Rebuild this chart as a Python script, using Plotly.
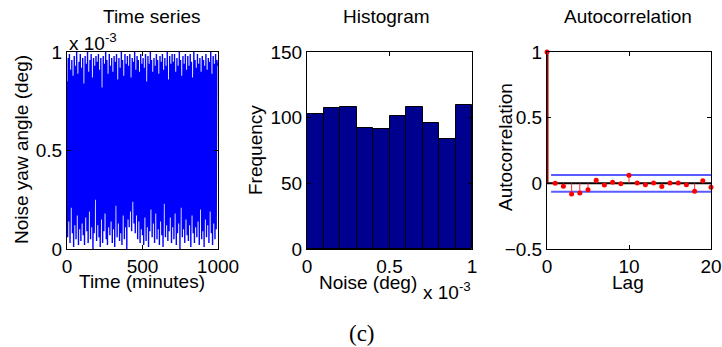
import plotly.graph_objects as go

# ---------------- data ----------------
# Time series (values in units of 1e-3 deg), sampled every 4 minutes
time_step_min = 4
noise_e3 = [
    0.85, 0.06, 0.97, 0.14, 0.99, 0.03, 0.91, 0.21, 0.96, 0.08, 0.88, 0.01, 0.98, 0.12, 0.93, 0.05, 1.00, 0.17, 0.89, 0.02, 0.95, 0.10, 0.99, 0.04, 0.92,
    0.13, 0.97, 0.07, 0.84, 0.02, 0.98, 0.16, 0.94, 0.09, 1.00, 0.03, 0.90, 0.19, 0.96, 0.05, 0.99, 0.11, 0.87, 0.00, 0.97, 0.08, 0.93, 0.25, 0.98, 0.04,
    0.95, 0.12, 0.99, 0.06, 0.91, 0.01, 0.97, 0.15, 0.82, 0.03, 0.98, 0.09, 0.94, 0.18, 1.00, 0.05, 0.96, 0.02, 0.89, 0.11, 0.99, 0.07, 0.93, 0.14, 0.97,
    0.03, 0.90, 0.10, 0.98, 0.01, 0.95, 0.22, 0.99, 0.06, 0.86, 0.13, 0.97, 0.04, 0.92, 0.08, 1.00, 0.02, 0.96, 0.17, 0.88, 0.05, 0.99, 0.11, 0.94, 0.00,
    0.98, 0.15, 0.93, 0.11, 0.99, 0.19, 0.87, 0.09, 0.97, 0.24, 0.95, 0.13, 1.00, 0.08, 0.91, 0.17, 0.98, 0.05, 0.96, 0.14, 0.90, 0.03, 0.99, 0.10, 0.94,
    0.07, 0.97, 0.02, 0.92, 0.16, 0.99, 0.04, 0.85, 0.11, 0.98, 0.01, 0.94, 0.09, 1.00, 0.20, 0.96, 0.06, 0.90, 0.13, 0.97, 0.03, 0.93, 0.18, 0.99, 0.05,
    0.96, 0.10, 0.89, 0.02, 0.98, 0.14, 0.95, 0.07, 0.99, 0.01, 0.91, 0.23, 0.97, 0.06, 0.93, 0.12, 1.00, 0.04, 0.86, 0.09, 0.98, 0.16, 0.94, 0.03, 0.99,
    0.11, 0.95, 0.05, 0.99, 0.18, 0.90, 0.02, 0.97, 0.08, 0.93, 0.13, 1.00, 0.00, 0.96, 0.21, 0.88, 0.06, 0.98, 0.10, 0.94, 0.03, 0.99, 0.15, 0.91, 0.07,
    0.98, 0.04, 0.93, 0.12, 0.99, 0.01, 0.95, 0.17, 0.87, 0.08, 1.00, 0.03, 0.96, 0.11, 0.92, 0.06, 0.99, 0.14, 0.94, 0.02, 0.97, 0.20, 0.90, 0.05, 0.98,
    0.09, 0.96, 0.01, 0.93, 0.15, 0.99, 0.06, 0.91, 0.12, 0.97, 0.03, 0.95, 0.19, 1.00, 0.08, 0.89, 0.02, 0.98, 0.13, 0.94, 0.05, 0.99, 0.10, 0.96, 0.93,
]
time_min = [i * time_step_min for i in range(len(noise_e3))]

# Histogram (10 bins over 0 .. 1e-3 deg, in units of 1e-3)
hist_bin_edges_e3 = [0.0, 0.1, 0.2, 0.3, 0.4, 0.5, 0.6, 0.7, 0.8, 0.9, 1.0]
hist_counts = [103, 107, 108, 92, 91, 101, 108, 96, 84, 110]

# Autocorrelation
lags = list(range(0, 21))
acf = [1.0, 0.00, -0.023, -0.081, -0.073, -0.048, 0.023, -0.013, 0.008, -0.003, 0.061,
       0.003, -0.010, 0.003, -0.025, 0.003, 0.003, -0.010, -0.061, 0.020, -0.030]
conf_bound = 0.064
conf_lag_range = [0.5, 20]

# tick labels
ts_xticks = [0, 500, 1000]
ts_yticks = [0, 0.5, 1]
hist_xticks = [0, 0.5, 1]
hist_yticks = [0, 50, 100, 150]
acf_xticks = [0, 10, 20]
acf_yticks = [-0.5, 0, 0.5, 1]

# ---------------- figure ----------------
W, H = 722, 347
FONT = "Liberation Sans, Arial, sans-serif"
FS = 19


def px(x):
    return x / W


def py(y):
    return 1 - y / H


fig = go.Figure()

# Panel 1: time series
fig.add_trace(go.Scatter(x=time_min, y=noise_e3, mode="lines",
                         line=dict(color="#0000FF", width=1.4, simplify=False),
                         xaxis="x", yaxis="y", showlegend=False))

# Panel 2: histogram
centers = [(hist_bin_edges_e3[i] + hist_bin_edges_e3[i + 1]) / 2 for i in range(len(hist_counts))]
widths = [hist_bin_edges_e3[i + 1] - hist_bin_edges_e3[i] for i in range(len(hist_counts))]
fig.add_trace(go.Bar(x=centers, y=hist_counts, width=widths,
                     marker=dict(color="#00008F", line=dict(color="black", width=1)),
                     xaxis="x2", yaxis="y2", showlegend=False))

# Panel 3: autocorrelation
fig.add_trace(go.Scatter(x=[0, 20], y=[0, 0], mode="lines",
                         line=dict(color="black", width=2),
                         xaxis="x3", yaxis="y3", showlegend=False))
for b in (conf_bound, -conf_bound):
    fig.add_trace(go.Scatter(x=conf_lag_range, y=[b, b], mode="lines",
                             line=dict(color="#5A5AFF", width=2),
                             xaxis="x3", yaxis="y3", showlegend=False))
sx, sy = [], []
for lg, v in zip(lags[1:], acf[1:]):
    sx += [lg, lg, None]
    sy += [0, v, None]
fig.add_trace(go.Scatter(x=sx, y=sy, mode="lines", line=dict(color="#FF3030", width=1),
                         xaxis="x3", yaxis="y3", showlegend=False))
fig.add_trace(go.Scatter(x=[lags[0], lags[0]], y=[0, acf[0]], mode="lines",
                         line=dict(color="#990000", width=3),
                         xaxis="x3", yaxis="y3", showlegend=False, cliponaxis=False))
fig.add_trace(go.Scatter(x=lags, y=acf, mode="markers",
                         marker=dict(color="#FF0000", size=5),
                         xaxis="x3", yaxis="y3", showlegend=False, cliponaxis=False))

ydom = [py(249), py(52)]
axis_common = dict(showgrid=False, zeroline=False, showline=True, linecolor="black",
                   linewidth=1, mirror="ticks", ticks="inside", ticklen=4, tickcolor="black",
                   tickfont=dict(family=FONT, size=FS, color="black"), automargin=False)

fig.update_layout(
    width=W, height=H,
    margin=dict(l=0, r=0, t=0, b=0),
    paper_bgcolor="white", plot_bgcolor="white",
    font=dict(family=FONT, size=FS, color="black"),
    xaxis=dict(domain=[px(67), px(218)], range=[0, 1000], tickvals=ts_xticks, anchor="y", **axis_common),
    yaxis=dict(domain=ydom, range=[0, 1], tickvals=ts_yticks, anchor="x", **axis_common),
    xaxis2=dict(domain=[px(307), px(472)], range=[0, 1], tickvals=hist_xticks, anchor="y2", **axis_common),
    yaxis2=dict(domain=ydom, range=[0, 150], tickvals=hist_yticks, anchor="x2", **axis_common),
    xaxis3=dict(domain=[px(547), px(711)], range=[0, 20], tickvals=acf_xticks, anchor="y3", **axis_common),
    yaxis3=dict(domain=ydom, range=[-0.5, 1], tickvals=acf_yticks, anchor="x3", **axis_common),
    bargap=0,
)


def ann(text, x, y, size=FS, angle=0, xanchor="center", family=FONT):
    fig.add_annotation(text=text, x=px(x), y=py(y), xref="paper", yref="paper",
                       showarrow=False, textangle=angle, xanchor=xanchor, yanchor="middle",
                       font=dict(family=family, size=size, color="black"))


# titles
ann("Time series", 151, 17)
ann("Histogram", 386, 17)
ann("Autocorrelation", 628, 17)
# axis titles
ann("Time (minutes)", 142, 281)
ann("Noise (deg)", 368, 282)
ann("Lag", 628, 282)
ann("Noise yaw angle (deg)", 21, 150, angle=-90)
ann("Frequency", 255, 150, angle=-90)
ann("Autocorrelation", 505, 147, angle=-90)
# exponent labels
ann("x 10<sup>-3</sup>", 67, 42, xanchor="left")
ann("x 10<sup>-3</sup>", 421, 291, xanchor="left")
# caption
ann("(c)", 362, 333, size=23, family="Liberation Serif, DejaVu Serif, serif")

fig.write_html("out.html", post_script="document.body.style.margin='0';",
               config={"displayModeBar": False})
